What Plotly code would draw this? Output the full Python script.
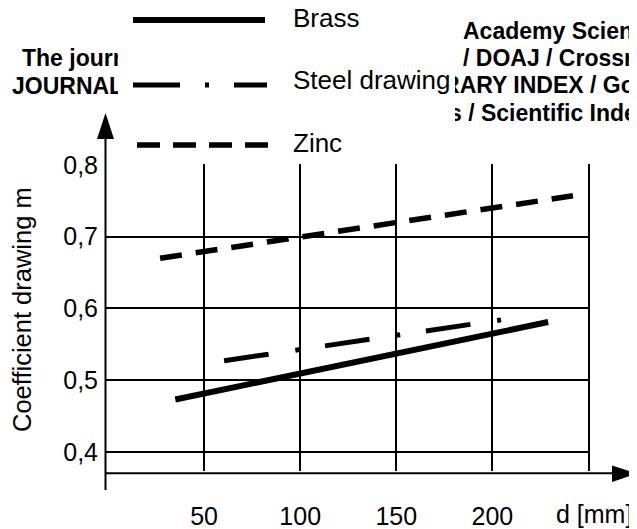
import plotly.graph_objects as go

# ---------------- data ----------------
series_names = ["Brass", "Steel drawing", "Zinc"]
brass_d = [35.0, 229.0]
brass_m = [0.473, 0.581]
steel_d = [60.4, 204.5]
steel_m = [0.527, 0.584]
zinc_d = [27.1, 241.9]
zinc_m = [0.670, 0.757]
x_tick_vals = [50, 100, 150, 200, 250]
x_tick_text = ["50", "100", "150", "200", ""]
y_tick_vals = [0.4, 0.5, 0.6, 0.7, 0.8]
y_tick_text = ["0,4", "0,5", "0,6", "0,7", "0,8"]
x_title = "d [mm]"
y_title = "Coefficient drawing m"
watermark_text = ["The journal", "JOURNAL OF", "Academy Sciences",
                  "/ DOAJ / Crossref", "LIBRARY INDEX / Google Scholar",
                  "s / Scientific Indexing"]

# ---------------- layout geometry (pixels of the 637x529 page) ----------------
PAGE_W, PAGE_H = 637, 529
OFF = 8                      # default body margin of the html page
W_FIG, H_FIG = PAGE_W - OFF, PAGE_H - OFF
PL, PR, PT, PB = 106.0, 590.0, 164.0, 471.0   # chart plot area edges in page px
PX_PER_D = 1.922
PX_PER_M = 717.0
x0 = -(108 - PL) / PX_PER_D
x1 = x0 + (PR - PL) / PX_PER_D
y1 = 0.8 + (165 - PT) / PX_PER_M
y0 = y1 - (PB - PT) / PX_PER_M

FONT = "Liberation Sans, Arial, sans-serif"
BLACK = "black"

fig = go.Figure()

# watermark text that sits behind the legend box (page-pixel frame x/y)
wm_px = [22, 12, 463, 463, 406, 449]
wm_py = [60.5, 88.5, 33.5, 60.5, 87.5, 115.5]
fig.add_trace(go.Scatter(
    x=wm_px, y=wm_py, xaxis="x", yaxis="y",
    mode="text", text=watermark_text, textposition="middle right",
    textfont=dict(family=FONT, size=23, color=BLACK, weight="bold"),
    showlegend=False, hoverinfo="skip"))

styles = [dict(color=BLACK, width=6),
          dict(color=BLACK, width=5, dash="45px,27px,4px,26px"),
          dict(color=BLACK, width=5.5, dash="22px,14px")]
for name, xs, ys, st in zip(series_names, [brass_d, steel_d, zinc_d],
                            [brass_m, steel_m, zinc_m], styles):
    fig.add_trace(go.Scatter(x=xs, y=ys, xaxis="x2", yaxis="y2", mode="lines",
                             name=name, line=st, showlegend=False, hoverinfo="skip"))

shapes = []
# white legend box
shapes.append(dict(type="rect", xref="x", yref="y", x0=118, x1=455, y0=0, y1=160,
                   fillcolor="white", line=dict(width=0), layer="above"))
# legend samples
leg_styles = [dict(color=BLACK, width=6),
              dict(color=BLACK, width=5, dash="47px,25px,4px,25px"),
              dict(color=BLACK, width=5.5, dash="23px,13px")]
leg_y = [20, 85, 145]
leg_x = [(133, 265), (133, 267), (137, 268)]
for st, yy, (xa, xb) in zip(leg_styles, leg_y, leg_x):
    shapes.append(dict(type="line", xref="x", yref="y", x0=xa, x1=xb, y0=yy, y1=yy,
                       line=st, layer="above"))
# axis lines with arrows
shapes.append(dict(type="line", xref="x", yref="y", x0=105.5, x1=105.5, y0=135, y1=490,
                   line=dict(color=BLACK, width=2), layer="above"))
shapes.append(dict(type="path", xref="x", yref="y",
                   path="M 105.5,113 L 97,139 L 114,139 Z",
                   fillcolor=BLACK, line=dict(width=0), layer="above"))
shapes.append(dict(type="line", xref="x", yref="y", x0=106, x1=615, y0=473.3, y1=473.3,
                   line=dict(color=BLACK, width=2), layer="above"))
shapes.append(dict(type="path", xref="x", yref="y",
                   path="M 637,473.5 L 612,465.5 L 612,482 Z",
                   fillcolor=BLACK, line=dict(width=0), layer="above"))

annotations = []
for name, yy in zip(series_names, [18, 80, 143]):
    annotations.append(dict(text=name, xref="x", yref="y", x=291, y=yy,
                            xanchor="left", yanchor="middle", showarrow=False,
                            font=dict(family=FONT, size=26, color=BLACK)))
annotations.append(dict(text=x_title, xref="x", yref="y", x=594, y=514,
                        xanchor="center", yanchor="middle", showarrow=False,
                        font=dict(family=FONT, size=25, color=BLACK)))
annotations.append(dict(text=y_title, xref="x", yref="y", x=22, y=310,
                        xanchor="center", yanchor="middle", showarrow=False, textangle=-90,
                        font=dict(family=FONT, size=25.5, color=BLACK)))

fig.update_layout(
    width=W_FIG, height=H_FIG,
    margin=dict(l=0, r=0, t=0, b=0, pad=0),
    paper_bgcolor="white", plot_bgcolor="rgba(0,0,0,0)",
    shapes=shapes, annotations=annotations, showlegend=False,
    xaxis=dict(domain=[0, 1], range=[OFF, PAGE_W], visible=False, fixedrange=True,
               automargin=False, anchor="y"),
    yaxis=dict(domain=[0, 1], range=[PAGE_H, OFF], visible=False, fixedrange=True,
               automargin=False, anchor="x"),
    xaxis2=dict(domain=[(PL - OFF) / W_FIG, (PR - OFF) / W_FIG], anchor="y2",
                range=[x0, x1], tickvals=x_tick_vals, ticktext=x_tick_text,
                showgrid=True, gridcolor=BLACK, gridwidth=1.6, zeroline=False,
                showline=False, ticks="", ticklabelstandoff=28, automargin=False,
                tickfont=dict(family=FONT, size=25, color=BLACK), fixedrange=True),
    yaxis2=dict(domain=[1 - (PB - OFF) / H_FIG, 1 - (PT - OFF) / H_FIG], anchor="x2",
                range=[y0, y1], tickvals=y_tick_vals, ticktext=y_tick_text,
                showgrid=True, gridcolor=BLACK, gridwidth=1.6, zeroline=False,
                showline=False, ticks="", ticklabelstandoff=7, automargin=False,
                tickfont=dict(family=FONT, size=25, color=BLACK), fixedrange=True),
)

fig.write_html("out.html")
